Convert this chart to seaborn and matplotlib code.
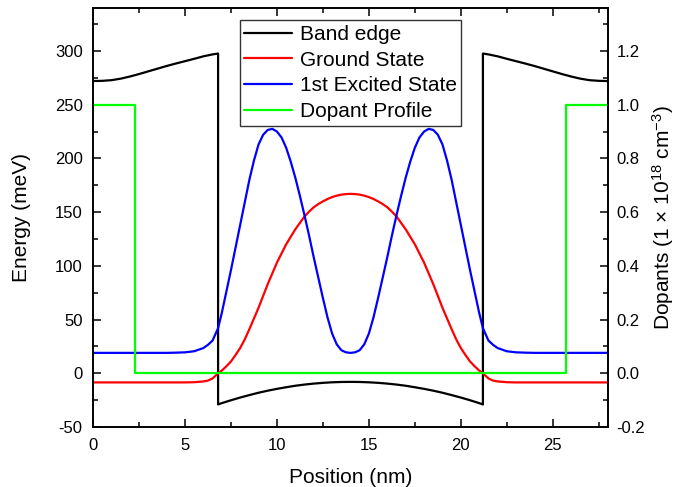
import numpy as np
import pandas as pd
import seaborn as sns
import matplotlib.pyplot as plt
from matplotlib.ticker import MultipleLocator

# band edge (meV) vs position (nm)
band_x = [0, 0.5, 1, 1.5, 2, 2.5, 3, 3.5, 4, 4.5, 5, 5.5, 6, 6.5, 6.8,
          6.8, 7, 7.5, 8, 8.5, 9, 9.5, 10, 10.5, 11, 11.5, 12, 12.5, 13, 13.5, 14,
          14.5, 15, 15.5, 16, 16.5, 17, 17.5, 18, 18.5, 19, 19.5, 20, 20.5, 21, 21.2,
          21.2, 21.5, 22, 22.5, 23, 23.5, 24, 24.5, 25, 25.5, 26, 26.5, 27, 27.5, 28]
band_y = [272, 272.2, 272.8, 274.2, 276.2, 278.5, 281, 283.5, 286, 288.3, 290.5, 292.7, 295, 296.8, 297.6,
          -29, -27.8, -25.1, -22.6, -20.3, -18.1, -16.2, -14.5, -13, -11.6, -10.5, -9.6, -8.9, -8.4, -8.1, -8,
          -8.1, -8.4, -8.9, -9.6, -10.5, -11.6, -13, -14.5, -16.2, -18.1, -20.3, -22.6, -25.1, -27.8, -29,
          297.6, 296.8, 295, 292.7, 290.5, 288.3, 286, 283.5, 281, 278.5, 276.2, 274.2, 272.8, 272.2, 272]

# wavefunction positions
wave_x = [0, 1, 2, 3, 4, 4.5, 5, 5.5, 6, 6.25, 6.5, 6.8, 7, 7.25, 7.5, 7.75, 8, 8.25, 8.5, 8.75,
          9, 9.25, 9.5, 9.75, 10, 10.25, 10.5, 10.75, 11, 11.25, 11.5, 11.75, 12, 12.25, 12.5, 12.75,
          13, 13.25, 13.5, 13.75, 14,
          14.25, 14.5, 14.75, 15, 15.25, 15.5, 15.75, 16, 16.25, 16.5, 16.75, 17, 17.25, 17.5, 17.75,
          18, 18.25, 18.5, 18.75, 19, 19.25, 19.5, 19.75, 20, 20.25, 20.5, 20.75, 21, 21.2, 21.5,
          21.75, 22, 22.5, 23, 23.5, 24, 25, 26, 27, 28]

ground = [-8.5, -8.5, -8.5, -8.5, -8.5, -8.5, -8.5, -8.3, -7.6, -6.8, -4.8, 0, 2.5, 6.5, 11, 17, 23.5, 31.5, 41, 51,
          61, 72, 83, 93, 103, 111.5, 120, 127, 134, 140, 146, 150.5, 154.5, 157.5, 160, 162.2,
          164, 165.3, 166.3, 166.8, 167,
          166.8, 166.3, 165.3, 164, 162.2, 160, 157.5, 154.5, 150.5, 146, 140, 134, 127, 120, 111.5,
          103, 93, 83, 72, 61, 51, 41, 31.5, 23.5, 17, 11, 6.5, 2.5, 0, -4.8,
          -6.8, -7.6, -8.3, -8.5, -8.5, -8.5, -8.5, -8.5, -8.5, -8.5]

excited = [19, 19, 19, 19, 19, 19.2, 19.5, 20.5, 23.5, 26.5, 30.5, 42, 56, 76, 96, 117, 138, 159, 180, 198,
           213, 222, 226.5, 227.5, 225, 219.5, 210, 197, 182, 165, 147, 128, 108, 89, 70, 52,
           37, 27, 21.5, 19.5, 19,
           19.5, 21.5, 27, 37, 52, 70, 89, 108, 128, 147, 165, 182, 197, 210, 219.5,
           225, 227.5, 226.5, 222, 213, 198, 180, 159, 138, 117, 96, 76, 56, 42, 30.5,
           26.5, 23.5, 20.5, 19.5, 19.2, 19, 19, 19, 19, 19]

# dopant profile (1e18 cm^-3)
dop_x = [0, 2.3, 2.3, 25.7, 25.7, 28]
dop_y = [1, 1, 0, 0, 1, 1]

labels = ['Band edge', 'Ground State', '1st Excited State', 'Dopant Profile']
colors = ['black', '#ff0000', '#0000ff', '#00ff00']

sns.set_theme(style="ticks")
plt.rcParams['font.family'] = ['Liberation Sans', 'DejaVu Sans']
plt.rcParams['mathtext.fontset'] = 'custom'
plt.rcParams['mathtext.rm'] = 'Liberation Sans'
plt.rcParams['mathtext.it'] = 'Liberation Sans'
plt.rcParams['axes.unicode_minus'] = False
plt.rcParams['text.color'] = 'black'
plt.rcParams['axes.labelcolor'] = 'black'

fig = plt.figure(figsize=(6.79, 4.87), dpi=100)
ax = fig.add_axes([0.137, 0.1232, 0.7584, 0.8604])
ax2 = ax.twinx()

sns.lineplot(x=band_x, y=band_y, ax=ax, color=colors[0], lw=1.6, sort=False, estimator=None, legend=False)
sns.lineplot(x=wave_x, y=ground, ax=ax, color=colors[1], lw=1.6, sort=False, estimator=None, legend=False)
sns.lineplot(x=wave_x, y=excited, ax=ax, color=colors[2], lw=1.6, sort=False, estimator=None, legend=False)
sns.lineplot(x=dop_x, y=dop_y, ax=ax2, color=colors[3], lw=1.6, sort=False, estimator=None, legend=False)

lines = list(ax.get_lines()) + list(ax2.get_lines())
for ln, lab in zip(lines, labels):
    ln.set_label(lab)

ax.set_xlim(0, 28)
ax.set_ylim(-50, 340)
ax2.set_ylim(-0.2, 1.36)

ax.xaxis.set_major_locator(MultipleLocator(5))
ax.xaxis.set_minor_locator(MultipleLocator(2.5))
ax.yaxis.set_major_locator(MultipleLocator(50))
ax.yaxis.set_minor_locator(MultipleLocator(25))
ax2.yaxis.set_major_locator(MultipleLocator(0.2))
ax2.yaxis.set_minor_locator(MultipleLocator(0.1))
ax2.yaxis.set_major_formatter(plt.FormatStrFormatter('%.1f'))

ax.tick_params(which='both', direction='in', top=True, right=False, labelsize=12, colors='black', width=1.1)
ax.tick_params(which='major', length=6)
ax.tick_params(which='minor', length=3.5)
ax.tick_params(axis='x', which='major', pad=8)
ax.tick_params(axis='y', which='major', pad=7.5)
ax2.tick_params(which='both', direction='in', labelsize=12, colors='black', width=1.1)
ax2.tick_params(which='major', length=6, pad=6)
ax2.tick_params(which='minor', length=3.5)

for a in (ax, ax2):
    for sp in a.spines.values():
        sp.set_color('black')
        sp.set_linewidth(1.2)

ax.set_xlabel('Position (nm)', fontsize=15, labelpad=11)
ax.set_ylabel('Energy (meV)', fontsize=15, labelpad=17)
ax2.set_ylabel(r'Dopants (1 × 10$^{18}$ cm$^{-3}$)', fontsize=15, labelpad=4)

leg = ax2.legend(handles=lines, loc='upper center', fontsize=15, frameon=True, fancybox=False,
                 framealpha=1, edgecolor='#333333', borderaxespad=0.6, labelspacing=0.32,
                 borderpad=0.22, handlelength=2.3, handletextpad=0.35)
leg.get_frame().set_linewidth(1.0)

fig.savefig('out.png', dpi=100)
